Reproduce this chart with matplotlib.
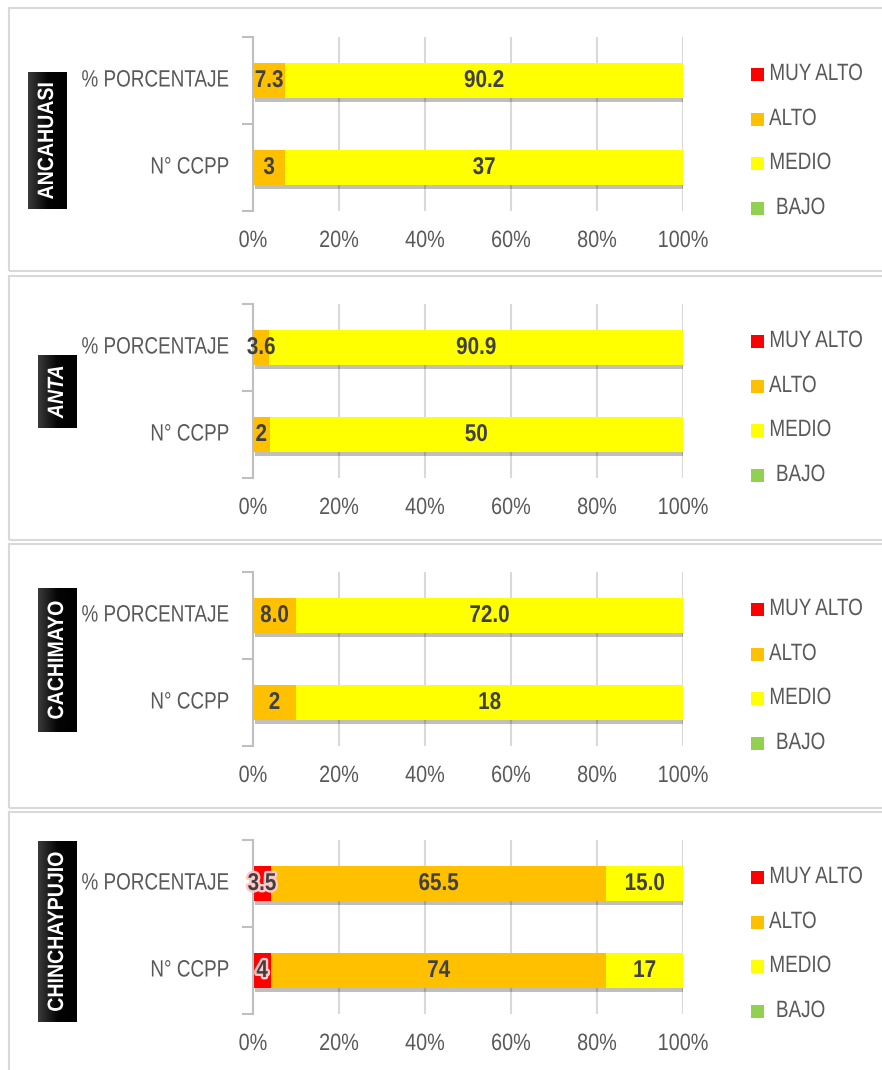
import matplotlib
matplotlib.use("Agg")
import matplotlib.pyplot as plt
import matplotlib.patheffects as pe
from matplotlib.patches import Rectangle
from matplotlib.transforms import Affine2D, ScaledTranslation, Bbox
import numpy as np

plt.rcParams['font.family'] = ['Liberation Sans', 'DejaVu Sans']

# ---------------- data ----------------
districts = ["ANCAHUASI", "ANTA", "CACHIMAYO", "CHINCHAYPUJIO"]
categories = ["N° CCPP", "% PORCENTAJE"]
levels = ["MUY ALTO", "ALTO", "MEDIO", " BAJO"]
level_colors = ["#FF0000", "#FFC000", "#FFFF00", "#92D050"]
x_ticks = [0, 20, 40, 60, 80, 100]

# values per level [MUY ALTO, ALTO, MEDIO, BAJO]
ancahuasi_pct = [0, 7.3, 90.2, 0]
ancahuasi_ccpp = [0, 3, 37, 0]
anta_pct = [0, 3.6, 90.9, 0]
anta_ccpp = [0, 2, 50, 0]
cachimayo_pct = [0, 8.0, 72.0, 0]
cachimayo_ccpp = [0, 2, 18, 0]
chinchaypujio_pct = [3.5, 65.5, 15.0, 0]
chinchaypujio_ccpp = [4, 74, 17, 0]

panels = [
    (ancahuasi_ccpp, ancahuasi_pct),
    (anta_ccpp, anta_pct),
    (cachimayo_ccpp, cachimayo_pct),
    (chinchaypujio_ccpp, chinchaypujio_pct),
]


class Condense(pe.AbstractPathEffect):
    """Horizontally condense text glyphs (narrow font look)."""
    def __init__(self, sx=0.8, anchor='center', stroke=None):
        super().__init__(offset=(0, 0))
        self.sx = sx
        self.anchor = anchor
        self.stroke = stroke

    def draw_path(self, renderer, gc, tpath, affine, rgbFace=None):
        ext = tpath.get_extents()
        if self.anchor == 'left':
            cx = ext.x0
        elif self.anchor == 'right':
            cx = ext.x1
        else:
            cx = 0.5 * (ext.x0 + ext.x1)
        aff = Affine2D().translate(-cx, 0).scale(self.sx, 1).translate(cx, 0) + affine
        if self.stroke is not None:
            lw, col = self.stroke
            gc0 = renderer.new_gc()
            gc0.copy_properties(gc)
            gc0.set_linewidth(renderer.points_to_pixels(lw))
            gc0.set_foreground(col)
            gc0.set_joinstyle('round')
            renderer.draw_path(gc0, tpath, aff, matplotlib.colors.to_rgba(col))
            gc0.restore()
        renderer.draw_path(gc, tpath, aff, rgbFace)


def condensed(t, sx, anchor='center', stroke=None, vertical=False):
    """Apply condensing effect and make the reported extent match the drawing."""
    t.set_path_effects([Condense(sx, anchor, stroke)])
    orig = t.get_window_extent

    def gwe(renderer=None, dpi=None):
        bb = orig(renderer, dpi) if dpi is not None else orig(renderer)
        x0, y0, x1, y1 = bb.x0, bb.y0, bb.x1, bb.y1
        if vertical:
            c = 0.5 * (y0 + y1)
            h = (y1 - y0) * sx
            return Bbox.from_extents(x0, c - h / 2, x1, c + h / 2)
        w = (x1 - x0) * sx
        if anchor == 'left':
            return Bbox.from_extents(x0, y0, x0 + w, y1)
        if anchor == 'right':
            return Bbox.from_extents(x1 - w, y0, x1, y1)
        c = 0.5 * (x0 + x1)
        return Bbox.from_extents(c - w / 2, y0, c + w / 2, y1)

    t.get_window_extent = gwe
    return t


W, H = 882, 1070
fig = plt.figure(figsize=(W / 100, H / 100), dpi=100)


def fx(px):
    return px / W


def fy(py):
    return 1 - py / H


# panel frames (pixel: top, bottom)
frames = [(8, 271), (276, 540), (544, 808), (812, 1075)]
for top, bot in frames:
    fig.patches.append(Rectangle((fx(9), fy(bot)), fx(885) - fx(9), fy(top) - fy(bot),
                                 transform=fig.transFigure, fill=False,
                                 edgecolor="#D9D9D9", linewidth=1.5))

axes_tops = [37, 304, 572, 840]
ax_h = 174
ax_left, ax_right = 253, 683

# label boxes (x0, x1, y0, y1) in pixels
boxes = [(28, 67, 72, 209), (38, 77, 355, 428), (38, 77, 588, 732), (38, 77, 841, 1022)]
box_italic = [False, True, False, False]

legend_offsets = [37, 82, 126, 171]
GRAY = '#595959'

shadow = [pe.SimplePatchShadow(offset=(1.5, -2.5), shadow_rgbFace='black', alpha=0.25), pe.Normal()]

for i, (ccpp, pct) in enumerate(panels):
    top = axes_tops[i]
    ax = fig.add_axes([fx(ax_left), fy(top + ax_h), fx(ax_right) - fx(ax_left), ax_h / H])
    rows = [ccpp, pct]
    ypos = np.arange(len(categories))
    for r, vals in enumerate(rows):
        total = float(sum(vals))
        left = 0.0
        for k, v in enumerate(vals):
            if v <= 0:
                continue
            w = v / total * 100
            bars = ax.barh(ypos[r], w, left=left, height=0.405, color=level_colors[k],
                           edgecolor='none', zorder=3)
            for b in bars:
                b.set_path_effects(shadow)
            label = f"{v:.1f}" if r == 1 else f"{int(v)}"
            stroke = (2.5, "#FFC8C8") if k == 0 else None
            t = ax.text(left + w / 2, ypos[r], label, ha='center', va='center',
                        fontsize=17.5, fontweight='bold', color='#404040', zorder=5)
            condensed(t, 0.85, 'center', stroke)
            left += w
    ax.set_xlim(0, 100)
    ax.set_ylim(-0.5, 1.5)
    ax.set_xticks(x_ticks)
    ax.set_yticks(ypos)
    ax.set_yticks([-0.5, 0.5, 1.5], minor=True)
    ax.tick_params(axis='y', which='major', length=0, labelleft=False)
    ax.tick_params(axis='y', which='minor', length=8, width=1.5, color='#BFBFBF', direction='out')
    ax.tick_params(axis='x', length=0, labelbottom=False)
    ax.grid(axis='x', color='#D9D9D9', linewidth=1.5, zorder=0)
    ax.set_axisbelow(True)
    for s in ['top', 'right', 'bottom']:
        ax.spines[s].set_visible(False)
    ax.spines['left'].set_color('#BFBFBF')
    ax.spines['left'].set_linewidth(1.5)
    ax.spines['left'].set_zorder(4)

    # category labels
    ytr = ax.get_yaxis_transform() + ScaledTranslation(-24 / 100, 0, fig.dpi_scale_trans)
    for r, cat in enumerate(categories):
        t = ax.text(0, ypos[r], cat, transform=ytr, ha='right', va='center', fontsize=17,
                    color=GRAY)
        condensed(t, 0.8, 'right')
    # x tick labels
    xtr = ax.get_xaxis_transform() + ScaledTranslation(0, -30 / 100, fig.dpi_scale_trans)
    for tk in x_ticks:
        t = ax.text(tk, 0, f"{tk}%", transform=xtr, ha='center', va='center', fontsize=17,
                    color=GRAY)
        condensed(t, 0.84, 'center')

    # legend
    for k, lev in enumerate(levels):
        ly = top + legend_offsets[k]
        fig.patches.append(Rectangle((fx(751), fy(ly + 7)), fx(13), 13 / H, transform=fig.transFigure,
                                     facecolor=level_colors[k], edgecolor='none'))
        t = fig.text(fx(769), fy(ly), lev, ha='left', va='center', fontsize=17, color=GRAY)
        condensed(t, 0.8, 'left')

    # district label box
    x0, x1, y0, y1 = boxes[i]
    bax = fig.add_axes([fx(x0), fy(y1), fx(x1) - fx(x0), (y1 - y0) / H])
    grad = np.linspace(0, 1, 64).reshape(1, -1)
    bax.imshow(grad, cmap=matplotlib.colors.LinearSegmentedColormap.from_list(
        'g', ['#3a3a3a', '#050505', '#000000']), aspect='auto', extent=[0, 1, 0, 1])
    bax.set_axis_off()
    t = bax.text(0.5, 0.5, districts[i], rotation=90, ha='center', va='center', color='white',
                 fontsize=16, fontweight='bold', fontstyle='italic' if box_italic[i] else 'normal',
                 transform=bax.transAxes)
    condensed(t, 0.88, 'center', vertical=True)

fig.savefig("out.png", dpi=100)
